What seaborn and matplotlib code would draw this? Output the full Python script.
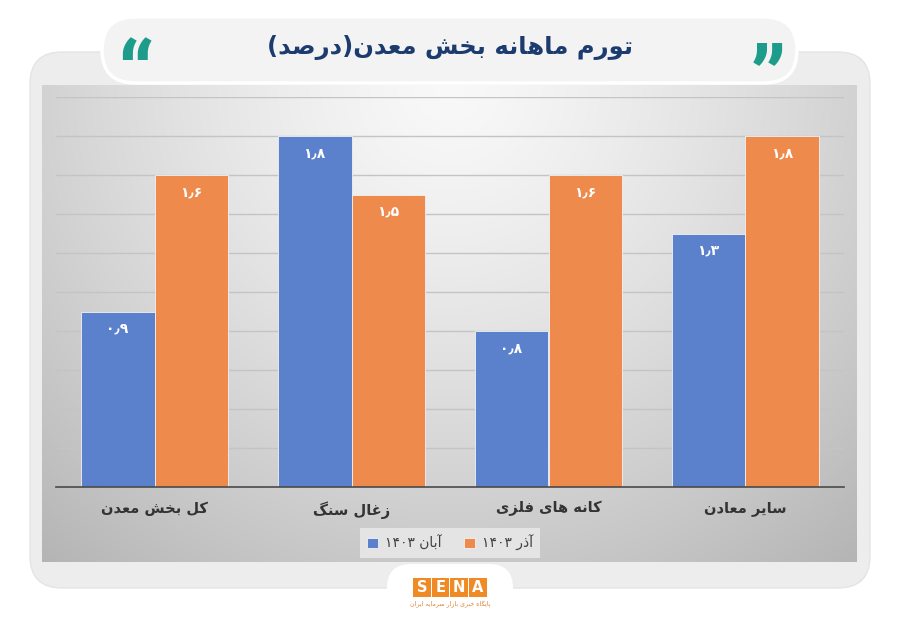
import re
import numpy as np
import pandas as pd
import matplotlib
matplotlib.use("Agg")
import matplotlib.pyplot as plt
from matplotlib.patches import FancyBboxPatch, Rectangle
import seaborn as sns

# ---------------- data ----------------
categories = ["کل بخش معدن", "زغال سنگ", "کانه های فلزی", "سایر معادن"]
series_names = ["آبان ۱۴۰۳", "آذر ۱۴۰۳"]
aban_values = [0.9, 1.8, 0.8, 1.3]
azar_values = [1.6, 1.5, 1.6, 1.8]
title_text = "تورم ماهانه بخش معدن(درصد)"
colors = ["#5B80CC", "#EE8A4B"]

# ---------------- minimal Persian shaping / bidi ----------------
DUAL = {
    '\u0628': ('\uFE8F', '\uFE90', '\uFE91', '\uFE92'),
    '\u067E': ('\uFB56', '\uFB57', '\uFB58', '\uFB59'),
    '\u062A': ('\uFE95', '\uFE96', '\uFE97', '\uFE98'),
    '\u062E': ('\uFEA5', '\uFEA6', '\uFEA7', '\uFEA8'),
    '\u0633': ('\uFEB1', '\uFEB2', '\uFEB3', '\uFEB4'),
    '\u0634': ('\uFEB5', '\uFEB6', '\uFEB7', '\uFEB8'),
    '\u0635': ('\uFEB9', '\uFEBA', '\uFEBB', '\uFEBC'),
    '\u0639': ('\uFEC9', '\uFECA', '\uFECB', '\uFECC'),
    '\u063A': ('\uFECD', '\uFECE', '\uFECF', '\uFED0'),
    '\u0641': ('\uFED1', '\uFED2', '\uFED3', '\uFED4'),
    '\u0644': ('\uFEDD', '\uFEDE', '\uFEDF', '\uFEE0'),
    '\u0645': ('\uFEE1', '\uFEE2', '\uFEE3', '\uFEE4'),
    '\u0646': ('\uFEE5', '\uFEE6', '\uFEE7', '\uFEE8'),
    '\u0647': ('\uFEE9', '\uFEEA', '\uFEEB', '\uFEEC'),
    '\u06A9': ('\uFB8E', '\uFB8F', '\uFB90', '\uFB91'),
    '\u06AF': ('\uFB92', '\uFB93', '\uFB94', '\uFB95'),
    '\u06CC': ('\uFBFC', '\uFBFD', '\uFBFE', '\uFBFF'),
}
RIGHT = {
    '\u0627': ('\uFE8D', '\uFE8E'),
    '\u0622': ('\uFE81', '\uFE82'),
    '\u062F': ('\uFEA9', '\uFEAA'),
    '\u0630': ('\uFEAB', '\uFEAC'),
    '\u0631': ('\uFEAD', '\uFEAE'),
    '\u0632': ('\uFEAF', '\uFEB0'),
    '\u0648': ('\uFEED', '\uFEEE'),
}


def shape(word):
    out = []
    n = len(word)
    for i, ch in enumerate(word):
        prev = word[i - 1] if i > 0 else ''
        nxt = word[i + 1] if i < n - 1 else ''
        jp = prev in DUAL and (ch in DUAL or ch in RIGHT)
        if ch in DUAL:
            jn = nxt in DUAL or nxt in RIGHT
            f = DUAL[ch]
            out.append(f[3] if (jp and jn) else f[1] if jp else f[2] if jn else f[0])
        elif ch in RIGHT:
            f = RIGHT[ch]
            out.append(f[1] if jp else f[0])
        else:
            out.append(ch)
    return ''.join(out)


NUM = '\u06F0-\u06F9\u066B0-9.'


def rtl(s):
    s = shape(s)
    runs = re.findall('[' + NUM + ']+|[^' + NUM + ']+', s)
    res = []
    for r in reversed(runs):
        if re.match('[' + NUM + ']', r):
            res.append(r)
        else:
            res.append(''.join({'(': ')', ')': '('}.get(c, c) for c in reversed(r)))
    return ''.join(res)


def fa_num(v):
    s = f"{v:.1f}"
    return s.translate(str.maketrans("0123456789.", "۰۱۲۳۴۵۶۷۸۹٫"))


# ---------------- figure ----------------
sns.set_theme(style="white")
plt.rcParams['font.family'] = ['DejaVu Sans']

W, H = 900, 623
fig = plt.figure(figsize=(9, 6.23), dpi=100)
fig.patch.set_facecolor("white")

bg = fig.add_axes([0, 0, 1, 1], zorder=0)
bg.set_xlim(0, W)
bg.set_ylim(H, 0)
bg.axis("off")

# outer card
bg.add_patch(FancyBboxPatch((30, 52), 840, 536, boxstyle="round,pad=0,rounding_size=32",
                            fc="#EDEDED", ec="#E4E4E4", lw=1))

# chart area radial gradient
gx = np.linspace(0, 1, 300)
gy = np.linspace(0, 1, 200)
XX, YY = np.meshgrid(gx, gy)
r = np.sqrt(((XX - 0.5) / 0.62) ** 2 + (YY / 1.05) ** 2)
val = np.clip(0.975 - 0.20 * r ** 1.3, 0, 1)
img = np.dstack([val, val, val])
bg.imshow(img, extent=(42, 857, 562, 85), aspect="auto", zorder=1, interpolation="bilinear")

# title pill
bg.add_patch(FancyBboxPatch((102, 17), 695, 66, boxstyle="round,pad=0,rounding_size=33",
                            fc="#F3F3F3", ec="white", lw=2.5, zorder=3))
bg.text(450, 47, rtl(title_text), ha="center", va="center", fontsize=17.5,
        fontweight="bold", color="#1C3B6E", zorder=4)
bg.text(135, 82, "\u201C", ha="center", va="center", fontsize=64, fontweight="bold",
        family="Roboto", color="#1D9C8C", zorder=4)
bg.text(768, 85, "\u201D", ha="center", va="center", fontsize=64, fontweight="bold",
        family="Roboto", color="#1D9C8C", zorder=4)

# bottom tab + logo
bg.add_patch(FancyBboxPatch((387, 564), 126, 80, boxstyle="round,pad=0,rounding_size=24",
                            fc="white", ec="none", zorder=3))
for i, letter in enumerate("SENA"):
    x0 = 413 + i * 18.7
    bg.add_patch(Rectangle((x0, 578), 17.7, 19, fc="#F08A24", ec="none", zorder=4))
    bg.text(x0 + 8.85, 588, letter, ha="center", va="center", fontsize=10.5,
            fontweight="bold", color="white", zorder=5)
bg.text(450, 604, rtl("پایگاه خبری بازار سرمایه ایران"), ha="center", va="center",
        fontsize=4.5, color="#E0822A", zorder=5)

# ---------------- bars ----------------
df = pd.DataFrame({
    "category": categories * 2,
    "value": aban_values + azar_values,
    "series": [rtl(series_names[0])] * len(categories) + [rtl(series_names[1])] * len(categories),
})
df["category"] = df["category"].map(rtl)

ax = fig.add_axes([56 / W, (H - 487) / H, 788 / W, 390 / H], zorder=2)
ax.set_facecolor("none")
sns.barplot(data=df, x="category", y="value", hue="series", palette=colors,
            width=0.75, saturation=1, ax=ax, legend=True, gap=0,
            edgecolor="#F2F2F2", linewidth=0.6)
ax.set_ylim(0, 2.0)
ax.set_xlim(-0.5, len(categories) - 0.5)
ax.set_yticks(np.arange(0, 2.01, 0.2))
ax.yaxis.grid(True, color="#C4C4C4", lw=1)
ax.set_axisbelow(True)
ax.tick_params(axis="y", left=False, labelleft=False)
ax.tick_params(axis="x", bottom=False, pad=4)
for lbl in ax.get_xticklabels():
    lbl.set_fontweight("bold")
    lbl.set_fontsize(10.5)
    lbl.set_color("#333333")
ax.set_xlabel("")
ax.set_ylabel("")
for s in ["top", "right", "left"]:
    ax.spines[s].set_visible(False)
ax.spines["bottom"].set_color("#4A4A4A")
ax.spines["bottom"].set_linewidth(1.2)

for cont in ax.containers:
    for p in cont:
        h = p.get_height()
        ax.text(p.get_x() + p.get_width() / 2, h - 0.088, fa_num(h), ha="center",
                va="center", color="white", fontsize=10, fontweight="bold")

handles, labels = ax.get_legend_handles_labels()
ax.get_legend().remove()
fig.legend(handles, labels, ncol=2, loc="center", bbox_to_anchor=(450 / W, (H - 543) / H),
           frameon=True, facecolor="#E4E4E4", edgecolor="none", fancybox=False,
           fontsize=10, handlelength=0.8, handleheight=0.8, columnspacing=1.6,
           handletextpad=0.5, labelcolor="#404040", borderpad=0.5, framealpha=1)

fig.savefig("out.png", dpi=100, facecolor="white")
